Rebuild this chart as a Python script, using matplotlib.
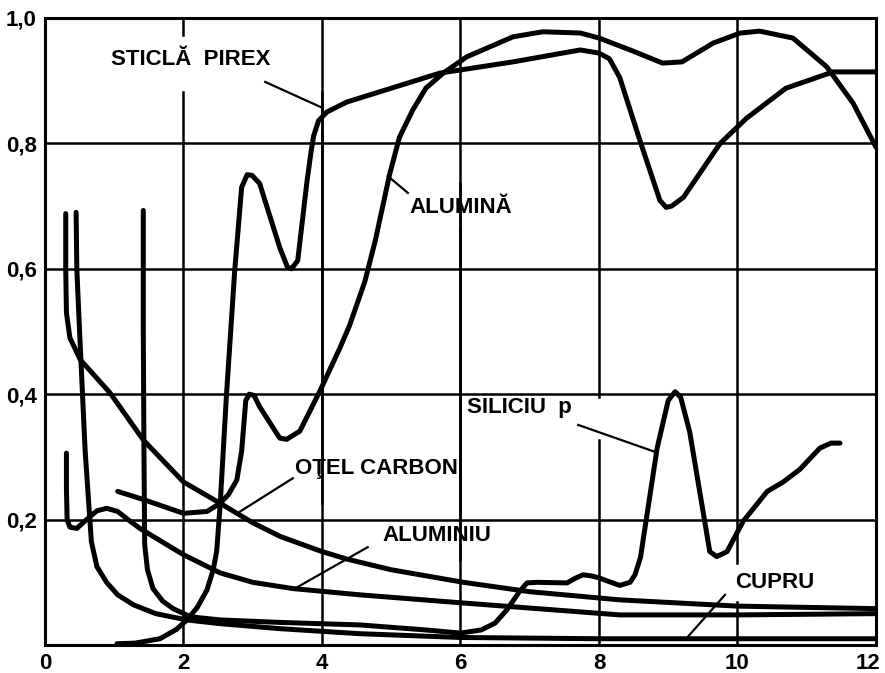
import matplotlib.pyplot as plt
from matplotlib.transforms import offset_copy

# emissivity vs wavelength (um), read point by point
sticla_x = [1.04, 1.3, 1.66, 1.9, 2.05, 2.2, 2.34, 2.43, 2.48, 2.53, 2.62, 2.74, 2.84, 2.92, 2.99, 3.1,
            3.39, 3.5, 3.56, 3.65, 3.78, 3.84, 3.88, 3.95, 4.07, 4.36, 5.7, 6.76, 7.73, 8.0, 8.15, 8.3, 8.59,
            8.88, 8.97, 9.05, 9.22, 9.75, 10.13, 10.7, 11.38, 12.0]
sticla_y = [0.002, 0.003, 0.01, 0.025, 0.04, 0.06, 0.088, 0.12, 0.15, 0.224, 0.397, 0.597, 0.73, 0.75, 0.749, 0.736,
            0.634, 0.603, 0.6, 0.613, 0.736, 0.785, 0.812, 0.836, 0.85, 0.866, 0.912, 0.93, 0.949, 0.944, 0.935,
            0.905, 0.805, 0.709, 0.698, 0.70, 0.714, 0.8, 0.84, 0.888, 0.914, 0.914]

alumina_x = [1.05, 1.42, 2.0, 2.34, 2.53, 2.65, 2.77, 2.84, 2.9, 2.95, 3.02, 3.1, 3.39, 3.49, 3.68, 3.97,
             4.26, 4.4, 4.62, 4.77, 4.98, 5.12, 5.31, 5.5, 5.75, 6.09, 6.76, 7.19, 7.73, 8.0, 8.45, 8.92, 9.2,
             9.65, 10.04, 10.32, 10.8, 11.29, 11.67, 12.0]
alumina_y = [0.245, 0.232, 0.21, 0.213, 0.226, 0.24, 0.263, 0.309, 0.39, 0.4, 0.398, 0.38, 0.33, 0.328, 0.341, 0.405,
             0.474, 0.51, 0.58, 0.645, 0.752, 0.81, 0.853, 0.888, 0.912, 0.938, 0.97, 0.978, 0.976, 0.968, 0.949,
             0.928, 0.93, 0.96, 0.976, 0.979, 0.968, 0.922, 0.864, 0.794]

otel_x = [0.3, 0.3, 0.31, 0.36, 0.51, 0.94, 1.42, 2.0, 2.53, 3.0, 3.4, 4.0, 4.36, 5.0, 6.04, 7.0, 8.3, 10.0, 12.0]
otel_y = [0.688, 0.6, 0.53, 0.49, 0.455, 0.402, 0.327, 0.26, 0.226, 0.195, 0.173, 0.149, 0.137, 0.12, 0.1,
          0.085, 0.072, 0.062, 0.058]

aluminiu_x = [0.31, 0.31, 0.32, 0.36, 0.46, 0.6, 0.75, 0.89, 1.05, 1.2, 1.37, 2.0, 2.53, 3.0, 3.58, 4.55, 6.04,
              8.3, 10.0, 12.0]
aluminiu_y = [0.306, 0.25, 0.2, 0.188, 0.186, 0.2, 0.214, 0.218, 0.213, 0.2, 0.186, 0.144, 0.115, 0.1, 0.09,
              0.08, 0.067, 0.048, 0.048, 0.05]

cupru_x = [0.45, 0.46, 0.5, 0.58, 0.67, 0.75, 0.89, 1.05, 1.28, 1.6, 2.05, 2.53, 3.4, 4.55, 6.0, 8.0, 10.0, 12.0]
cupru_y = [0.69, 0.6, 0.5, 0.31, 0.165, 0.125, 0.1, 0.08, 0.064, 0.05, 0.04, 0.034, 0.026, 0.018, 0.012,
           0.01, 0.01, 0.01]

siliciu_x = [1.42, 1.42, 1.43, 1.44, 1.48, 1.56, 1.7, 1.85, 2.1, 2.53, 3.4, 4.55, 5.5, 6.0, 6.3, 6.5, 6.67,
             6.85, 6.96, 7.1, 7.54, 7.65, 7.77, 7.9, 8.0, 8.3, 8.45, 8.52, 8.6, 8.84, 9.0, 9.1, 9.18, 9.31,
             9.6, 9.7, 9.85, 10.08, 10.43, 10.66, 10.9, 11.19, 11.35, 11.48]
siliciu_y = [0.693, 0.5, 0.3, 0.16, 0.12, 0.09, 0.07, 0.058, 0.045, 0.04, 0.036, 0.032, 0.024, 0.019, 0.024,
             0.035, 0.056, 0.085, 0.099, 0.1, 0.099, 0.106, 0.112, 0.11, 0.107, 0.095, 0.1, 0.112, 0.14, 0.314,
             0.39, 0.404, 0.395, 0.34, 0.149, 0.141, 0.149, 0.197, 0.245, 0.26, 0.28, 0.314, 0.322, 0.322]

series = [(sticla_x, sticla_y), (alumina_x, alumina_y), (otel_x, otel_y),
          (aluminiu_x, aluminiu_y), (cupru_x, cupru_y), (siliciu_x, siliciu_y)]

xticks = [0, 2, 4, 6, 8, 10, 12]
xtick_labels = ['0', '2', '4', '6', '8', '10', '12']
yticks = [0.2, 0.4, 0.6, 0.8, 1.0]
ytick_labels = ['0,2', '0,4', '0,6', '0,8', '1,0']

# label text, text anchor (x, y), leader start, leader end
labels = [
    ('STICLĂ  PIREX', (0.95, 0.933), (3.18, 0.898), (4.0, 0.857)),
    ('ALUMINĂ', (5.27, 0.698), (5.24, 0.721), (4.95, 0.748)),
    ('OŢEL CARBON', (3.61, 0.281), (3.58, 0.266), (2.82, 0.213)),
    ('ALUMINIU', (4.87, 0.174), (4.66, 0.156), (3.64, 0.092)),
    ('SILICIU  p', (6.09, 0.378), (7.7, 0.351), (8.81, 0.308)),
    ('CUPRU', (9.96, 0.1), (9.82, 0.08), (9.29, 0.014)),
]

# breaks in the vertical grid lines around the labels
grid_gaps = {2: [(0.882, 0.973)], 4: [(0.818, 0.882), (0.227, 0.302)],
             6: [(0.662, 0.737), (0.136, 0.210)], 8: [(0.327, 0.395)], 10: [(0.069, 0.131)]}

plt.rcParams['font.family'] = ['Liberation Sans', 'DejaVu Sans']

fig = plt.figure(figsize=(8.85, 6.73), dpi=100)
ax = fig.add_axes([0.0508, 0.0416, 0.939, 0.9317])
ax.set_xlim(0, 12)
ax.set_ylim(0, 1.0)

for gx in [2, 4, 6, 8, 10]:
    lo = 0.0
    for g0, g1 in grid_gaps.get(gx, []):
        ax.plot([gx, gx], [lo, g0], color='black', lw=1.8, zorder=1)
        lo = g1
    ax.plot([gx, gx], [lo, 1.0], color='black', lw=1.8, zorder=1)
for gy in [0.2, 0.4, 0.6, 0.8]:
    ax.axhline(gy, color='black', lw=1.8, zorder=1)

for x, y in series:
    ax.plot(x, y, color='black', lw=3.6, solid_capstyle='round', solid_joinstyle='round', zorder=3)

for text, pos, p0, p1 in labels:
    ax.text(pos[0], pos[1], text, fontsize=16, fontweight='bold', ha='left', va='center', zorder=4)
    ax.plot([p0[0], p1[0]], [p0[1], p1[1]], color='black', lw=1.6, zorder=3)

ax.set_xticks(xticks)
ax.set_xticklabels(xtick_labels)
ax.set_yticks(yticks)
ax.set_yticklabels(ytick_labels)
ax.tick_params(length=0, labelsize=16, pad=6)
for lab in ax.get_xticklabels() + ax.get_yticklabels():
    lab.set_fontweight('bold')
# keep the last x label inside the figure
last = ax.get_xticklabels()[-1]
last.set_transform(offset_copy(last.get_transform(), fig=fig, x=-8, units='dots'))
for sp in ax.spines.values():
    sp.set_linewidth(2.2)

fig.savefig('out.png', dpi=100)
